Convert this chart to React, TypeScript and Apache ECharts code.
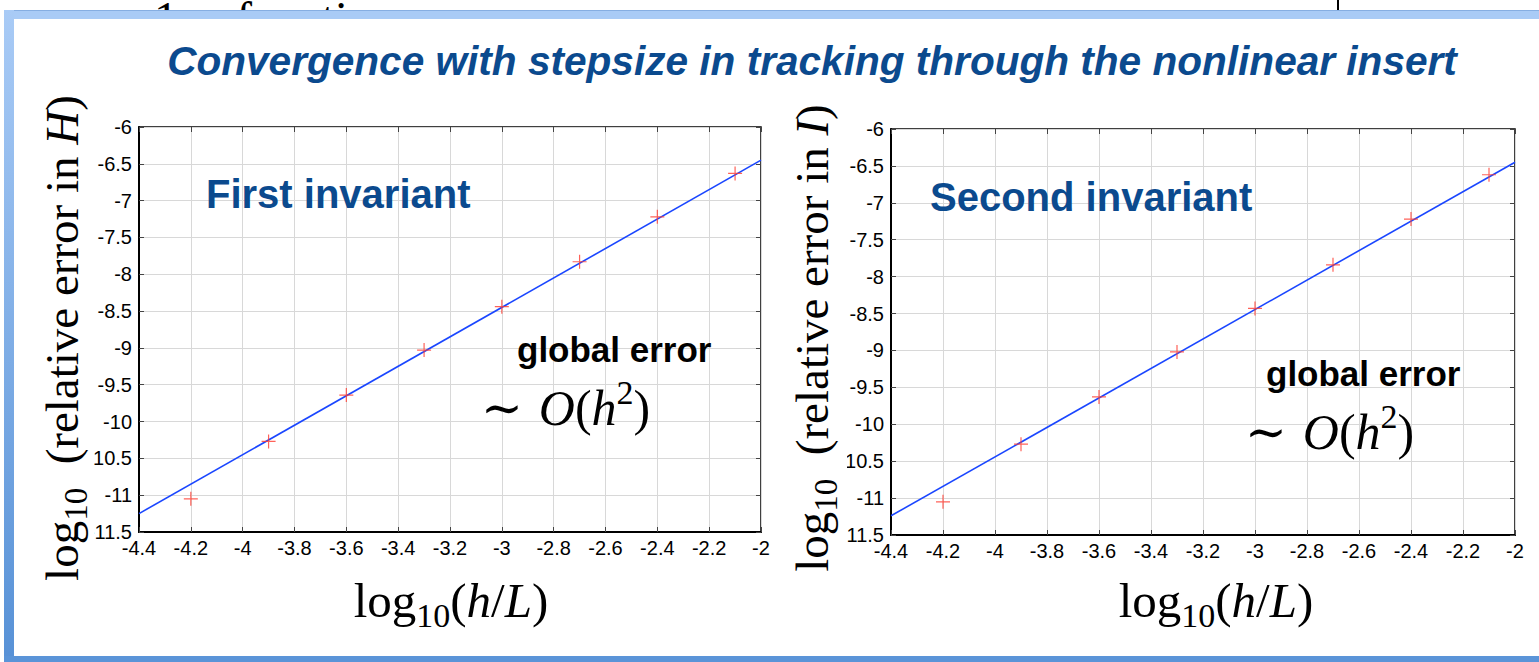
import React, { useEffect, useRef } from "react";
import * as echarts from "echarts";

// log10 of the step size h/L at which the tracking was run
const stepLog = [-4.2, -3.9, -3.6, -3.3, -3.0, -2.7, -2.4, -2.1];
// log10 of the relative error in the first invariant H
const errFirst = [-11.05, -10.27, -9.64, -9.03, -8.44, -7.83, -7.22, -6.63];
// log10 of the relative error in the second invariant I
const errSecond = [-11.05, -10.27, -9.63, -9.02, -8.43, -7.84, -7.22, -6.62];
// end points of the fitted slope-2 lines
const fitX = [-4.4, -2.0];
const fitFirst = [-11.25, -6.45];
const fitSecond = [-11.24, -6.45];

const X_MIN = -4.4;
const X_MAX = -2;
const X_STEP = 0.2;
const Y_MIN = -11.5;
const Y_MAX = -6;
const Y_STEP = 0.5;

const mainTitle = "Convergence with stepsize in tracking through the nonlinear insert";
const panelTitles = ["First invariant", "Second invariant"];
const invariantSymbols = ["H", "I"];
const errorNote = "global error";

const serif = '"Liberation Serif", "Times New Roman", serif';
const sans = '"Liberation Sans", Arial, Helvetica, sans-serif';
const navy = "#0b4a8e";

const panels = [
  {
    grid: { left: 139, top: 127, width: 622, height: 405 },
    nameX: 451, nameY: 600, yNameX: 62, yNameY: 338,
    maskX: 16, maskW: 78,
    titleX: 206, titleY: 194,
    noteX: 517, noteY: 349,
    orderX: 481, orderY: 408,
    errors: errFirst, fit: fitFirst,
  },
  {
    grid: { left: 891, top: 129, width: 624, height: 406 },
    nameX: 1216, nameY: 600, yNameX: 812, yNameY: 338,
    maskX: 772, maskW: 75,
    titleX: 930, titleY: 197,
    noteX: 1266, noteY: 373,
    orderX: 1245, orderY: 432,
    errors: errSecond, fit: fitSecond,
  },
];

const mathRich = (size: number, small: number) => {
  const lh = Math.round(size * 1.3);
  return {
    m: { fontFamily: serif, fontSize: size, lineHeight: lh, fill: "#000" },
    i: { fontFamily: serif, fontSize: size, fontStyle: "italic", lineHeight: lh, fill: "#000" },
    s: { fontFamily: serif, fontSize: small, verticalAlign: "bottom", lineHeight: small, fill: "#000" },
    p: { fontFamily: serif, fontSize: small, verticalAlign: "top", lineHeight: small, fill: "#000" },
    t: { fontFamily: '"DejaVu Serif", serif', fontSize: size, lineHeight: lh, fill: "#000" },
  };
};

const fmt = (v: number) => String(parseFloat(v.toFixed(1)));

function buildOption() {
  const grid: any[] = [];
  const xAxis: any[] = [];
  const yAxis: any[] = [];
  const series: any[] = [];
  const graphic: any[] = [];

  // slide frame and the page peeking out behind it
  graphic.push(
    {
      type: "text", x: 154, y: 18, z: 1,
      style: { text: "1", fontFamily: serif, fontSize: 48, lineHeight: 34, fill: "#000", align: "left", verticalAlign: "middle" },
    },
    {
      type: "text", x: 236, y: 18, z: 1,
      style: { text: "function", fontFamily: serif, fontSize: 48, lineHeight: 34, fill: "#000", align: "left", verticalAlign: "middle" },
    },
    { type: "line", z: 1, shape: { x1: 1338, y1: 0, x2: 1338, y2: 12 }, style: { stroke: "#000", lineWidth: 2 } },
    { type: "rect", z: 2, shape: { x: 4, y: 19, width: 1535, height: 643 }, style: { fill: "#fff" } },
    { type: "rect", z: 3, shape: { x: 4, y: 10, width: 1535, height: 9 }, style: { fill: "#a9cbf6" } },
    { type: "line", z: 3, shape: { x1: 4, y1: 10.5, x2: 1539, y2: 10.5 }, style: { stroke: "#86aee2", lineWidth: 1 } },
    {
      type: "rect", z: 3, shape: { x: 4, y: 10, width: 10, height: 652 },
      style: {
        fill: new echarts.graphic.LinearGradient(0, 0, 0, 1, [
          { offset: 0, color: "#a9cbf6" },
          { offset: 1, color: "#5791d6" },
        ]),
      },
    },
    { type: "rect", z: 3, shape: { x: 4, y: 656, width: 1535, height: 6 }, style: { fill: "#5a94d8" } },
    {
      type: "text", x: 812, y: 61, z: 4,
      style: {
        text: mainTitle, fontFamily: sans, fontSize: 40.6, fontWeight: "bold", fontStyle: "italic",
        fill: navy, align: "center", verticalAlign: "middle",
      },
    }
  );

  panels.forEach((p, k) => {
    grid.push({
      ...p.grid,
      show: true,
      borderColor: "#000",
      borderWidth: 1.5,
      backgroundColor: "transparent",
      z: 5,
    });
    const xi = xAxis.length;
    const yi = yAxis.length;
    xAxis.push(
      {
        type: "value", gridIndex: k, min: X_MIN, max: X_MAX, interval: X_STEP, position: "bottom", z: 5,
        axisLine: { show: true, lineStyle: { color: "#000", width: 2 } },
        axisTick: { show: true, inside: true, length: 5, lineStyle: { color: "#444" } },
        axisLabel: { margin: 6, color: "#000", fontFamily: sans, fontSize: 20, formatter: fmt },
        splitLine: { show: true, lineStyle: { color: "#d8d8d8", width: 1 } },
      },
      {
        type: "value", gridIndex: k, min: X_MIN, max: X_MAX, interval: X_STEP, position: "top", z: 5,
        axisLine: { show: false },
        axisTick: { show: true, inside: true, length: 5, lineStyle: { color: "#444" } },
        axisLabel: { show: false },
        splitLine: { show: false },
      }
    );
    yAxis.push(
      {
        type: "value", gridIndex: k, min: Y_MIN, max: Y_MAX, interval: Y_STEP, position: "left", z: 5,
        axisLine: { show: true, lineStyle: { color: "#000", width: 2 } },
        axisTick: { show: true, inside: true, length: 5, lineStyle: { color: "#444" } },
        axisLabel: { margin: 7, color: "#000", fontFamily: sans, fontSize: 20, formatter: fmt },
        splitLine: { show: true, lineStyle: { color: "#d8d8d8", width: 1 } },
      },
      {
        type: "value", gridIndex: k, min: Y_MIN, max: Y_MAX, interval: Y_STEP, position: "right", z: 5,
        axisLine: { show: false },
        axisTick: { show: true, inside: true, length: 5, lineStyle: { color: "#444" } },
        axisLabel: { show: false },
        splitLine: { show: false },
      }
    );

    series.push(
      {
        type: "line", xAxisIndex: xi, yAxisIndex: yi, z: 6,
        data: fitX.map((x, j) => [x, p.fit[j]]),
        showSymbol: false, symbol: "none",
        lineStyle: { color: "#1a46ff", width: 1.6 },
      },
      {
        type: "scatter", xAxisIndex: xi, yAxisIndex: yi, z: 7,
        data: stepLog.map((x, j) => [x, p.errors[j]]),
        symbol: "path://M7,0L7,14M0,7L14,7",
        symbolSize: 14,
        itemStyle: { color: "#ff3b30", borderColor: "#ff3b30", borderWidth: 1.2 },
      }
    );

    const r = mathRich(47, 33);
    graphic.push(
      {
        type: "text", x: p.titleX, y: p.titleY, z: 20,
        style: { text: panelTitles[k], fontFamily: sans, fontSize: 40, fontWeight: "bold", fill: navy, align: "left", verticalAlign: "middle" },
      },
      {
        type: "text", x: p.noteX, y: p.noteY, z: 20,
        style: { text: errorNote, fontFamily: sans, fontSize: 35, fontWeight: "bold", fill: "#000", align: "left", verticalAlign: "middle" },
      },
      {
        type: "text", x: p.orderX, y: p.orderY, z: 20,
        style: {
          text: "{t|∼ }{i|O}{m|(}{i|h}{p|2}{m|)}",
          rich: mathRich(50, 34), align: "left", verticalAlign: "middle",
        },
      },
      {
        type: "text", x: p.nameX, y: p.nameY, z: 20,
        style: { text: "{m|log}{s|10}{m|(}{i|h}{m|/}{i|L}{m|)}", rich: mathRich(49, 34), align: "center", verticalAlign: "middle" },
      },
      // white backing of the rotated y label, laid over the tick labels
      { type: "rect", z: 19, shape: { x: p.maskX, y: 88, width: p.maskW, height: 510 }, style: { fill: "#fff" } },
      {
        type: "text", x: p.yNameX, y: p.yNameY, z: 20, rotation: Math.PI / 2,
        style: {
          text: `{m|log}{s|10}{m|  (relative error in }{i|${invariantSymbols[k]}}{m|)}`,
          rich: r, align: "center", verticalAlign: "middle",
        },
      }
    );
  });

  return {
    animation: false,
    backgroundColor: "#fff",
    grid,
    xAxis,
    yAxis,
    series,
    graphic: { elements: graphic },
  };
}

export default function App() {
  const ref = useRef<HTMLDivElement>(null);
  useEffect(() => {
    if (!ref.current) return;
    const chart = echarts.init(ref.current, undefined, { renderer: "svg" });
    chart.setOption(buildOption() as any);
    return () => chart.dispose();
  }, []);
  return (
    <div
      ref={ref}
      style={{ position: "absolute", left: 0, top: 0, width: 1539, height: 662, background: "#fff" }}
    />
  );
}
